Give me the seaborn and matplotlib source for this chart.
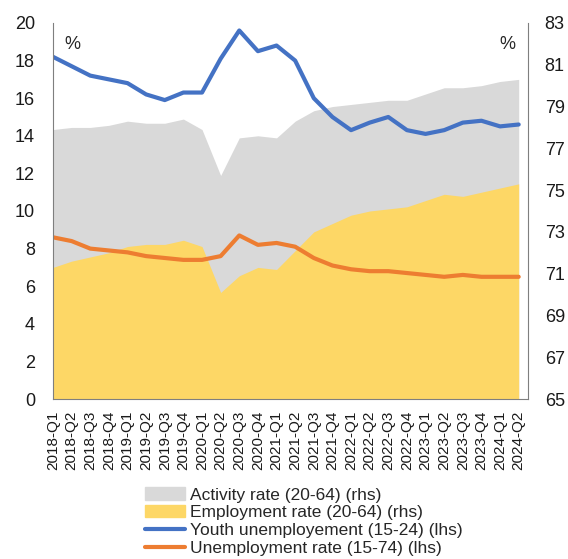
import numpy as np
import pandas as pd
import matplotlib.pyplot as plt
import seaborn as sns
from matplotlib.patches import Patch
from matplotlib.lines import Line2D

# quarters 2018-Q1 .. 2024-Q2
quarters = [f"{y}-Q{q}" for y in range(2018, 2025) for q in range(1, 5)][:26]

# left axis (lhs), %
youth_unemp = [18.2, 17.7, 17.2, 17.0, 16.8, 16.2, 15.9, 16.3, 16.3, 18.1, 19.6, 18.5, 18.8,
               18.0, 16.0, 15.0, 14.3, 14.7, 15.0, 14.3, 14.1, 14.3, 14.7, 14.8, 14.5, 14.6]
unemp_rate = [8.6, 8.4, 8.0, 7.9, 7.8, 7.6, 7.5, 7.4, 7.4, 7.6, 8.7, 8.2, 8.3,
              8.1, 7.5, 7.1, 6.9, 6.8, 6.8, 6.7, 6.6, 6.5, 6.6, 6.5, 6.5, 6.5]

# right axis (rhs), %
activity_rate = [77.9, 78.0, 78.0, 78.1, 78.3, 78.2, 78.2, 78.4, 77.9, 75.7, 77.5, 77.6, 77.5,
                 78.3, 78.8, 79.0, 79.1, 79.2, 79.3, 79.3, 79.6, 79.9, 79.9, 80.0, 80.2, 80.3]
employment_rate = [71.3, 71.6, 71.8, 72.0, 72.3, 72.4, 72.4, 72.6, 72.3, 70.1, 70.9, 71.3, 71.2,
                   72.1, 73.0, 73.4, 73.8, 74.0, 74.1, 74.2, 74.5, 74.8, 74.7, 74.9, 75.1, 75.3]

df = pd.DataFrame({"x": np.arange(len(quarters)), "youth": youth_unemp, "unemp": unemp_rate,
                   "activity": activity_rate, "employment": employment_rate})

sns.set_style("white")
plt.rcParams['font.family'] = ['Liberation Sans', 'DejaVu Sans']

grey = "#D9D9D9"
yellow = "#FDD766"
blue = "#4472C4"
orange = "#ED7D31"
axis_col = "#7F7F7F"

fig = plt.figure(figsize=(5.68, 5.59), dpi=100)
ax = fig.add_axes([0.0933, 0.2862, 0.8363, 0.6727])
ax2 = ax.twinx()

# areas on the right axis
ax2.fill_between(df["x"], 65, df["activity"], color=grey, linewidth=0)
ax2.fill_between(df["x"], 65, df["employment"], color=yellow, linewidth=0)
ax2.set_ylim(65, 83)
ax2.set_yticks(np.arange(65, 84, 2))

# lines on the left axis, drawn above the areas
ax.set_zorder(ax2.get_zorder() + 1)
ax.patch.set_visible(False)
sns.lineplot(data=df, x="x", y="youth", ax=ax, color=blue, linewidth=3)
sns.lineplot(data=df, x="x", y="unemp", ax=ax, color=orange, linewidth=3)
ax.set_ylim(0, 20)
ax.set_yticks(np.arange(0, 21, 2))
ax.set_xlim(0, 25.5)
ax.set_xticks(df["x"])
ax.set_xticklabels(quarters, rotation=90)
ax.set_xlabel("")
ax.set_ylabel("")

for a in (ax, ax2):
    for s in a.spines.values():
        s.set_visible(False)
    a.tick_params(length=0, labelsize=13, colors="#1a1a1a")
ax.spines["left"].set_visible(True)
ax.spines["left"].set_color(axis_col)
ax.spines["bottom"].set_visible(True)
ax.spines["bottom"].set_color(axis_col)
ax2.spines["right"].set_visible(True)
ax2.spines["right"].set_color(axis_col)
ax.tick_params(axis="y", pad=13)
ax2.tick_params(axis="y", pad=12)
ax.tick_params(axis="x", labelsize=11, pad=8)

ax.text(0.025, 0.965, "%", transform=ax.transAxes, fontsize=13, va="top", ha="left")
ax2.text(0.94, 0.965, "%", transform=ax.transAxes, fontsize=13, va="top", ha="left")

handles = [Patch(color=grey), Patch(color=yellow),
           Line2D([], [], color=blue, linewidth=3),
           Line2D([], [], color=orange, linewidth=3)]
labels = ["Activity rate (20-64) (rhs)", "Employment rate (20-64) (rhs)",
          "Youth unemployement (15-24) (lhs)", "Unemployment rate (15-74) (lhs)"]
fig.legend(handles, labels, loc="upper left", bbox_to_anchor=(0.255, 0.128), frameon=False,
           fontsize=12.5, handlelength=2.3, handletextpad=0.3, labelspacing=0.15,
           borderpad=0, borderaxespad=0)

fig.savefig("out.png", dpi=100)
